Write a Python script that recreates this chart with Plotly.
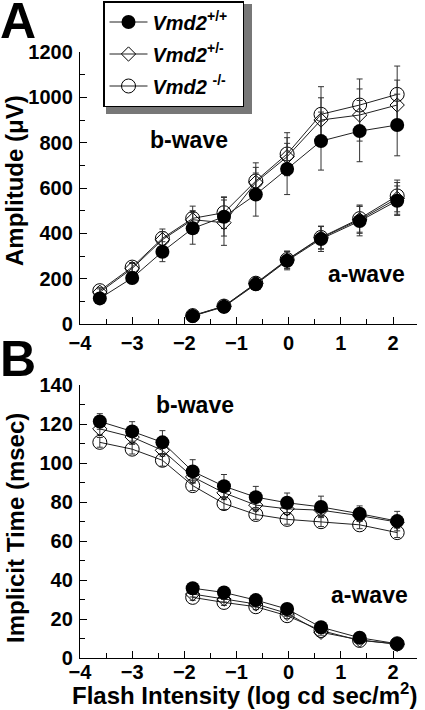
import plotly.graph_objects as go

# flash intensities (log cd sec/m2)
intensity = [-3.62, -3.0, -2.42, -1.84, -1.24, -0.63, -0.03, 0.62, 1.36, 2.08]
intensity_a = intensity[3:]

# panel A - amplitude (uV)
wt_b_amp = [113, 203, 319, 422, 473, 571, 684, 807, 851, 878]
wt_b_amp_err = [20, 25, 44, 70, 85, 95, 113, 128, 135, 136]
het_b_amp = [140, 245, 372, 460, 447, 625, 738, 900, 922, 966]
het_b_amp_err = [15, 22, 35, 40, 100, 66, 84, 98, 115, 110]
ko_b_amp = [147, 251, 378, 466, 491, 631, 750, 925, 966, 1013]
ko_b_amp_err = [15, 20, 41, 54, 70, 80, 94, 122, 115, 125]

wt_a_amp = [35, 76, 175, 279, 375, 454, 544]
wt_a_amp_err = [8, 12, 25, 40, 55, 65, 65]
het_a_amp = [36, 78, 178, 282, 380, 460, 554]
het_a_amp_err = [8, 12, 25, 38, 50, 60, 70]
ko_a_amp = [37, 79, 180, 284, 382, 465, 565]
ko_a_amp_err = [8, 12, 25, 38, 50, 60, 70]

# panel B - implicit time (msec)
wt_b_time = [121.3, 116.2, 110.6, 95.7, 88.1, 82.5, 79.6, 77.5, 74.0, 70.2]
wt_b_time_err = [4, 5, 6, 6, 6, 5.5, 5, 5.5, 4, 5]
het_b_time = [117.5, 113.3, 106.5, 92.9, 84.7, 78.4, 76.5, 75.8, 73.0, 69.7]
het_b_time_err = [3, 3.5, 3, 3, 3.5, 3, 3, 3, 2.5, 3]
ko_b_time = [110.6, 107.1, 101.4, 88.4, 79.2, 73.6, 71.1, 69.9, 68.3, 64.3]
ko_b_time_err = [2.5, 2.5, 3, 2.5, 3, 2.5, 2.5, 2.5, 2, 2.5]

wt_a_time = [35.8, 33.6, 29.7, 25.1, 15.8, 10.4, 7.3]
wt_a_time_err = [1.5, 1.5, 1.5, 1.5, 1.5, 1, 1]
het_a_time = [32.8, 30.2, 27.7, 22.9, 13.2, 9.3, 7.0]
het_a_time_err = [1.5, 1.5, 1.5, 1.5, 1.5, 1, 1]
ko_a_time = [31.1, 28.5, 26.3, 21.7, 14.1, 9.0, 7.3]
ko_a_time_err = [1.5, 1.5, 1.5, 1.5, 1.5, 1, 1]

FONT = "Liberation Sans"
W, H = 425, 710
L, R, T, B = 80, 8, 52, 52


def px(x, y):
    # pixel position -> paper coords
    return (x - L) / (W - L - R), (H - B - y) / (H - T - B)


styles = {
    "+/+": dict(symbol="circle", size=14, color="black", line=dict(width=0)),
    "+/-": dict(symbol="diamond-open", size=11, color="black", line=dict(width=1)),
    "-/-": dict(symbol="circle-open", size=14, color="black", line=dict(width=1)),
}
# trailing en-space pads the legend box out to the reference width
names = {
    "+/+": "<i>Vmd2</i><sup>+/+</sup>\u2002",
    "+/-": "<i>Vmd2</i><sup>+/-</sup>\u2002",
    "-/-": "<i>Vmd2</i> <sup>-/-</sup>\u2002",
}
rank = {"+/+": 1, "+/-": 2, "-/-": 3}

series = [
    ("x", "y", intensity, {"+/+": (wt_b_amp, wt_b_amp_err), "+/-": (het_b_amp, het_b_amp_err), "-/-": (ko_b_amp, ko_b_amp_err)}),
    ("x", "y", intensity_a, {"+/+": (wt_a_amp, wt_a_amp_err), "+/-": (het_a_amp, het_a_amp_err), "-/-": (ko_a_amp, ko_a_amp_err)}),
    ("x2", "y2", intensity, {"+/+": (wt_b_time, wt_b_time_err), "+/-": (het_b_time, het_b_time_err), "-/-": (ko_b_time, ko_b_time_err)}),
    ("x2", "y2", intensity_a, {"+/+": (wt_a_time, wt_a_time_err), "+/-": (het_a_time, het_a_time_err), "-/-": (ko_a_time, ko_a_time_err)}),
]

fig = go.Figure()
first = True
for xa, ya, xs, data in series:
    # draw open symbols first so filled ones sit on top
    for g in ["-/-", "+/-", "+/+"]:
        vals, errs = data[g]
        fig.add_trace(go.Scatter(
            x=xs, y=vals, xaxis=xa, yaxis=ya,
            mode="lines+markers",
            name=names[g], legendrank=rank[g], legendgroup=g, showlegend=first,
            line=dict(color="#222", width=1),
            marker=styles[g],
            error_y=dict(type="data", array=errs, color="#333", thickness=1, width=3),
            cliponaxis=False,
        ))
    first = False

tickfont = dict(family=FONT, size=20, color="black", weight="bold")
axis_common = dict(
    showline=True, linecolor="black", linewidth=1.3, mirror=False,
    ticks="inside", ticklen=7, tickwidth=1, tickcolor="black",
    showgrid=False, zeroline=False, tickfont=tickfont, automargin=False,
)
xcommon = dict(axis_common, range=[-4, 2.46], dtick=1, tick0=0,
               minor=dict(ticks="inside", dtick=0.5, ticklen=5, tickcolor="black"))

fig.update_layout(
    template="none",
    width=W, height=H,
    margin=dict(l=L, r=R, t=T, b=B, autoexpand=False),
    paper_bgcolor="white", plot_bgcolor="white",
    xaxis=dict(xcommon, anchor="y", ticklabelstandoff=1),
    yaxis=dict(axis_common, domain=[px(0, 324)[1], 1.0], range=[0, 1200], dtick=200,
               ticklabelstandoff=2,
               minor=dict(ticks="inside", dtick=100, ticklen=5, tickcolor="black")),
    xaxis2=dict(xcommon, anchor="y2", ticklabelstandoff=-4),
    yaxis2=dict(axis_common, domain=[0, px(0, 385)[1]], range=[0, 140], dtick=20,
                ticklabelstandoff=2,
                minor=dict(ticks="inside", dtick=10, ticklen=5, tickcolor="black")),
    legend=dict(
        xref="container", yref="container",
        x=103 / W, y=1 - 1 / H, xanchor="left", yanchor="top",
        bgcolor="white", bordercolor="black", borderwidth=1.5,
        font=dict(family=FONT, size=20, color="black", weight="bold"),
        itemwidth=38, tracegroupgap=3,
    ),
    showlegend=True,
)

# panel letters, wave labels and axis titles, placed in pixel coords
labels = [
    ("A", 18, 21, 50, 0), ("B", 18, 359, 50, 0),
    ("b-wave", 189, 140, 23, 0), ("a-wave", 366, 274, 23, 0),
    ("b-wave", 195, 405, 23, 0), ("a-wave", 369, 595, 23, 0),
    ("Amplitude (μV)", 15, 181, 24, -90),
    ("Implicit Time (msec)", 15, 528, 24, -90),
    ("Flash Intensity (log cd sec/m<sup>2</sup>)", 244, 694, 24, 0),
]
for text, lx, ly, size, angle in labels:
    ax, ay = px(lx, ly)
    fig.add_annotation(x=ax, y=ay, xref="paper", yref="paper", text=text,
                       showarrow=False, xanchor="center", yanchor="middle", textangle=angle,
                       font=dict(family=FONT, size=size, color="black", weight="bold"))

# legend drop shadow
sx0, sy0 = px(106, 114)
sx1, sy1 = px(252, 4)
fig.add_shape(type="rect", xref="paper", yref="paper", x0=sx0, y0=sy0, x1=sx1, y1=sy1,
              fillcolor="#777", line=dict(width=0), layer="below")

fig.write_html("out.html", config={"displayModeBar": False},
               post_script="document.body.style.margin='0';")
